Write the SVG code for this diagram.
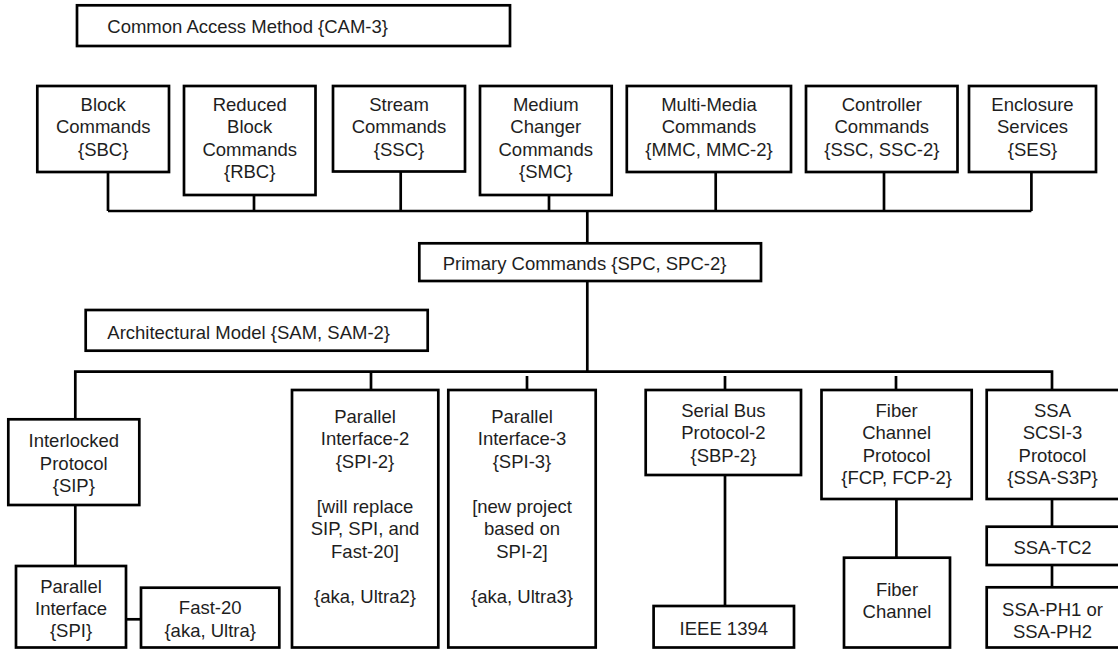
<svg xmlns="http://www.w3.org/2000/svg" width="1118" height="650" viewBox="0 0 1118 650">
<style>
  .box { fill: #ffffff; stroke: #000000; stroke-width: 2.7; }
  .ln { fill: none; stroke: #000000; stroke-width: 2.7; }
  text { font-family: "Liberation Sans", Arial, Helvetica, sans-serif; font-size: 18.5px; fill: #1e1e1e; }
  .c { text-anchor: middle; }
</style>
<rect width="1118" height="650" fill="#ffffff"/>
<g id="connectors">
  <!-- top bus -->
  <path class="ln" d="M108 211 H1031.4"/>
  <path class="ln" d="M108 172 V211"/>
  <path class="ln" d="M254 195 V211"/>
  <path class="ln" d="M400.7 171 V211"/>
  <path class="ln" d="M549 195 V211"/>
  <path class="ln" d="M715.7 172 V211"/>
  <path class="ln" d="M884 172 V211"/>
  <path class="ln" d="M1031.4 172 V211"/>
  <!-- bus to primary -->
  <path class="ln" d="M587.3 211 V243.3"/>
  <path class="ln" d="M587.3 281 V371.7"/>
  <!-- lower bus -->
  <path class="ln" d="M75.3 419.3 V371.7 H1052 V390"/>
  <path class="ln" d="M371 371.7 V390"/>
  <path class="ln" d="M527 376 V390"/>
  <path class="ln" d="M725 376 V390"/>
  <path class="ln" d="M896 376 V390"/>
  <!-- lower chains -->
  <path class="ln" d="M75.3 505 V566"/>
  <path class="ln" d="M126 619.3 H141"/>
  <path class="ln" d="M725 475 V606"/>
  <path class="ln" d="M896.4 499 V557.7"/>
  <path class="ln" d="M1052 499 V526.7"/>
  <path class="ln" d="M1052 565 V587.3"/>
</g>
<g id="cam">
  <rect class="box" x="77" y="5.3" width="433" height="40.7"/>
  <text x="107.3" y="32.7">Common Access Method {CAM-3}</text>
</g>
<g id="sbc">
  <rect class="box" x="37.3" y="86" width="131.7" height="86"/>
  <text class="c" x="103.2" y="111">Block</text>
  <text class="c" x="103.2" y="133.4">Commands</text>
  <text class="c" x="103.2" y="155.8">{SBC}</text>
</g>
<g id="rbc">
  <rect class="box" x="184" y="86" width="131.5" height="109"/>
  <text class="c" x="249.7" y="111">Reduced</text>
  <text class="c" x="249.7" y="133.4">Block</text>
  <text class="c" x="249.7" y="155.8">Commands</text>
  <text class="c" x="249.7" y="178.2">{RBC}</text>
</g>
<g id="ssc">
  <rect class="box" x="333" y="86" width="132" height="85.5"/>
  <text class="c" x="399" y="111">Stream</text>
  <text class="c" x="399" y="133.4">Commands</text>
  <text class="c" x="399" y="155.8">{SSC}</text>
</g>
<g id="smc">
  <rect class="box" x="480" y="86" width="131.7" height="109"/>
  <text class="c" x="545.8" y="111">Medium</text>
  <text class="c" x="545.8" y="133.4">Changer</text>
  <text class="c" x="545.8" y="155.8">Commands</text>
  <text class="c" x="545.8" y="178.2">{SMC}</text>
</g>
<g id="mmc">
  <rect class="box" x="626.8" y="86" width="164.2" height="86"/>
  <text class="c" x="709" y="111">Multi-Media</text>
  <text class="c" x="709" y="133.4">Commands</text>
  <text class="c" x="709" y="155.8">{MMC, MMC-2}</text>
</g>
<g id="controller">
  <rect class="box" x="806" y="86" width="151.5" height="86"/>
  <text class="c" x="881.8" y="111">Controller</text>
  <text class="c" x="881.8" y="133.4">Commands</text>
  <text class="c" x="881.8" y="155.8">{SSC, SSC-2}</text>
</g>
<g id="ses">
  <rect class="box" x="969" y="86" width="127" height="86"/>
  <text class="c" x="1032.5" y="111">Enclosure</text>
  <text class="c" x="1032.5" y="133.4">Services</text>
  <text class="c" x="1032.5" y="155.8">{SES}</text>
</g>
<g id="spc">
  <rect class="box" x="419.3" y="243.3" width="341.7" height="37.7"/>
  <text x="442.7" y="270">Primary Commands {SPC, SPC-2}</text>
</g>
<g id="sam">
  <rect class="box" x="85.7" y="310" width="342" height="40.7"/>
  <text x="107.3" y="338.5">Architectural Model {SAM, SAM-2}</text>
</g>
<g id="sip">
  <rect class="box" x="8.3" y="419.3" width="131" height="85.7"/>
  <text class="c" x="73.8" y="447">Interlocked</text>
  <text class="c" x="73.8" y="469.5">Protocol</text>
  <text class="c" x="73.8" y="492">{SIP}</text>
</g>
<g id="spi">
  <rect class="box" x="16" y="566" width="110" height="81.5"/>
  <text class="c" x="71" y="592.7">Parallel</text>
  <text class="c" x="71" y="614.5">Interface</text>
  <text class="c" x="71" y="636.7">{SPI}</text>
</g>
<g id="fast20">
  <rect class="box" x="141" y="587.7" width="138.3" height="59.8"/>
  <text class="c" x="210.2" y="614.3">Fast-20</text>
  <text class="c" x="210.2" y="636.7">{aka, Ultra}</text>
</g>
<g id="spi2">
  <rect class="box" x="292" y="390" width="146.3" height="257.5"/>
  <text class="c" x="365" y="422.5">Parallel</text>
  <text class="c" x="365" y="445">Interface-2</text>
  <text class="c" x="365" y="467.5">{SPI-2}</text>
  <text class="c" x="365" y="512.5">[will replace</text>
  <text class="c" x="365" y="535">SIP, SPI, and</text>
  <text class="c" x="365" y="557.5">Fast-20]</text>
  <text class="c" x="365" y="602.5">{aka, Ultra2}</text>
</g>
<g id="spi3">
  <rect class="box" x="448.3" y="390" width="147.4" height="257.5"/>
  <text class="c" x="522" y="422.5">Parallel</text>
  <text class="c" x="522" y="445">Interface-3</text>
  <text class="c" x="522" y="467.5">{SPI-3}</text>
  <text class="c" x="522" y="512.5">[new project</text>
  <text class="c" x="522" y="535">based on</text>
  <text class="c" x="522" y="557.5">SPI-2]</text>
  <text class="c" x="522" y="602.5">{aka, Ultra3}</text>
</g>
<g id="sbp2">
  <rect class="box" x="645.7" y="390" width="155.3" height="85"/>
  <text class="c" x="723.4" y="416.7">Serial Bus</text>
  <text class="c" x="723.4" y="439.1">Protocol-2</text>
  <text class="c" x="723.4" y="461.5">{SBP-2}</text>
</g>
<g id="ieee1394">
  <rect class="box" x="653.6" y="606" width="140.4" height="41.5"/>
  <text class="c" x="723.8" y="634.5">IEEE 1394</text>
</g>
<g id="fcp">
  <rect class="box" x="821.5" y="390" width="150.2" height="109"/>
  <text class="c" x="896.6" y="416.7">Fiber</text>
  <text class="c" x="896.6" y="439.1">Channel</text>
  <text class="c" x="896.6" y="461.5">Protocol</text>
  <text class="c" x="896.6" y="483.9">{FCP, FCP-2}</text>
</g>
<g id="fiberchannel">
  <rect class="box" x="844" y="557.7" width="106" height="89.8"/>
  <text class="c" x="897" y="596">Fiber</text>
  <text class="c" x="897" y="618.4">Channel</text>
</g>
<g id="ssa-s3p">
  <rect class="box" x="986.7" y="390" width="133.3" height="109"/>
  <text class="c" x="1052.5" y="416.7">SSA</text>
  <text class="c" x="1052.5" y="439.1">SCSI-3</text>
  <text class="c" x="1052.5" y="461.5">Protocol</text>
  <text class="c" x="1052.5" y="483.9">{SSA-S3P}</text>
</g>
<g id="ssa-tc2">
  <rect class="box" x="986.7" y="526.7" width="133.3" height="38.3"/>
  <text class="c" x="1052.5" y="554">SSA-TC2</text>
</g>
<g id="ssa-ph">
  <rect class="box" x="986.7" y="587.3" width="133.3" height="60.2"/>
  <text class="c" x="1052.5" y="616">SSA-PH1 or</text>
  <text class="c" x="1052.5" y="638">SSA-PH2</text>
</g>
</svg>
